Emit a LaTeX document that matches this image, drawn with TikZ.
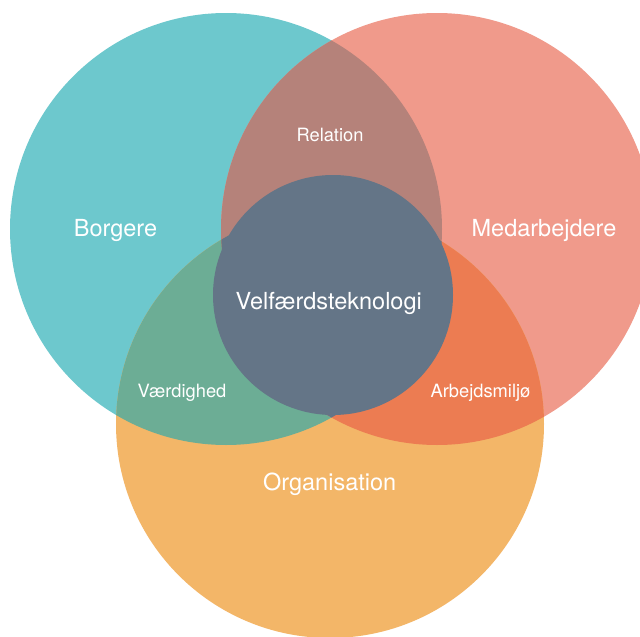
\documentclass[tikz,border=0pt]{standalone}
\usepackage{fontspec}
\setmainfont{TeX Gyre Heros}
\definecolor{cyanc}{HTML}{6DC8CD}
\definecolor{pinkc}{HTML}{F09A8B}
\definecolor{orangec}{HTML}{F3B668}
\definecolor{brownc}{HTML}{B5827A}
\definecolor{greenc}{HTML}{6CAD95}
\definecolor{dorangec}{HTML}{EC7C52}
\definecolor{centerc}{HTML}{647587}
\tikzset{
  big/.style={text=white, inner sep=0pt, anchor=base, font=\fontsize{23.5}{28}\selectfont},
  small/.style={text=white, inner sep=0pt, anchor=base, font=\fontsize{18.3}{22}\selectfont},
}
\begin{document}
\begin{tikzpicture}[x=1pt,y=-1pt]
\useasboundingbox (0,0) rectangle (640,637);
\clip (0,0) rectangle (640,637);
\fill[white] (0,0) rectangle (640,637);
\coordinate (cB) at (226,229);
\coordinate (cM) at (437,229);
\coordinate (cO) at (330,424);
\coordinate (cV) at (333,295);
% base circles
\fill[cyanc] (cB) circle[radius=216pt];
\fill[pinkc] (cM) circle[radius=216pt];
\fill[orangec] (cO) circle[radius=214pt];
% pairwise overlaps
\begin{scope}
  \clip (cB) circle[radius=216pt];
  \fill[brownc] (cM) circle[radius=216pt];
\end{scope}
\begin{scope}
  \clip (cB) circle[radius=216pt];
  \fill[greenc] (cO) circle[radius=214pt];
\end{scope}
\begin{scope}
  \clip (cM) circle[radius=216pt];
  \fill[dorangec] (cO) circle[radius=214pt];
\end{scope}
\begin{scope}
  \clip (cB) circle[radius=216pt];
  \clip (cM) circle[radius=216pt];
  \fill[centerc] (cO) circle[radius=214pt];
\end{scope}
% center circle
\fill[centerc] (cV) circle[radius=120pt];
% labels
\node[big] (borgere) at (115.5,236.7) {Borgere};
\node[big] (medarb) at (544,236.7) {Medarbejdere};
\node[big] (org) at (329.7,490.7) {Organisation};
\node[big] (velf) at (328.7,309.3) {Velfærdsteknologi};
\node[small] (rel) at (330,141.7) {Relation};
\node[small] (vaerd) at (182,397.3) {Værdighed};
\node[small] (arb) at (480.5,397.3) {Arbejdsmiljø};
\end{tikzpicture}
\end{document}
